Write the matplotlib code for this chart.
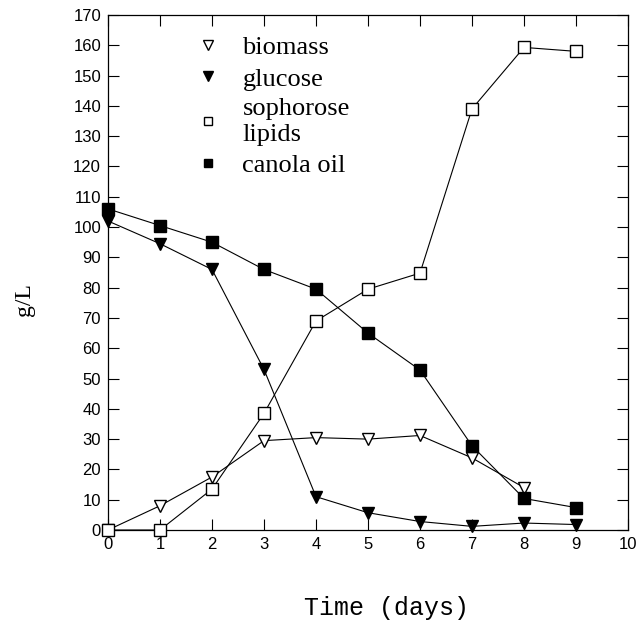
import matplotlib
matplotlib.use("Agg")
import matplotlib.pyplot as plt

days = [0, 1, 2, 3, 4, 5, 6, 7, 8, 9]
biomass_days = [0, 1, 2, 3, 4, 5, 6, 7, 8]
biomass = [0, 8, 17.5, 29.5, 30.5, 30, 31.2, 23.8, 14]
glucose = [102, 94.5, 86, 53, 11, 5.7, 2.8, 1.2, 2.3, 1.8]
sophorose = [0, 0, 13.5, 38.5, 69, 79.5, 84.8, 139, 159.3, 158]
canola = [106, 100.5, 95, 86, 79.5, 65, 52.8, 27.8, 10.4, 7.4]

labels = ["biomass", "glucose", "sophorose\nlipids", "canola oil"]
xticks = list(range(0, 11))
yticks = list(range(0, 171, 10))

fig = plt.figure(figsize=(6.39, 6.37), dpi=100)
ax = fig.add_axes([108/639, 1-530/637, 520/639, 515/637])

lw = 0.8
common = dict(color="black", lw=lw, clip_on=False, zorder=3)
h1, = ax.plot(biomass_days, biomass, marker="v", ms=9,
              mfc="white", mec="black", mew=1.0, label=labels[0], **common)
h2, = ax.plot(days, glucose, marker="v", ms=9,
              mfc="black", mec="black", label=labels[1], **common)
h3, = ax.plot(days, sophorose, marker="s", ms=8.5,
              mfc="white", mec="black", mew=1.0, label=labels[2], **common)
h4, = ax.plot(days, canola, marker="s", ms=8.5,
              mfc="black", mec="black", label=labels[3], **common)

ax.set_xlim(0, 10)
ax.set_ylim(0, 170)
ax.set_xticks(xticks)
ax.set_yticks(yticks)
ax.tick_params(direction="in", length=8, width=0.8, top=True, right=True,
               labelsize=12, pad=5)
for lab in ax.get_xticklabels() + ax.get_yticklabels():
    lab.set_family("Liberation Sans")
for s in ax.spines.values():
    s.set_linewidth(0.9)

leg = ax.legend(handles=[h1, h2, h3, h4], loc="upper left",
                bbox_to_anchor=(0.147, 1.006), frameon=False,
                prop={"family": "Liberation Serif", "size": 19},
                handlelength=0, handletextpad=1.3, labelspacing=0.3,
                markerscale=0.75)
for lh in leg.legend_handles:
    lh.set_linestyle("none")

fig.text(25/639, 1-300/637, "g/L", rotation=90, ha="center", va="center",
         family="Liberation Serif", fontsize=17)
fig.text(387/639, 1-608/637, "Time (days)", ha="center", va="center",
         family="Liberation Mono", fontsize=18)

fig.savefig("out.png", dpi=100)
